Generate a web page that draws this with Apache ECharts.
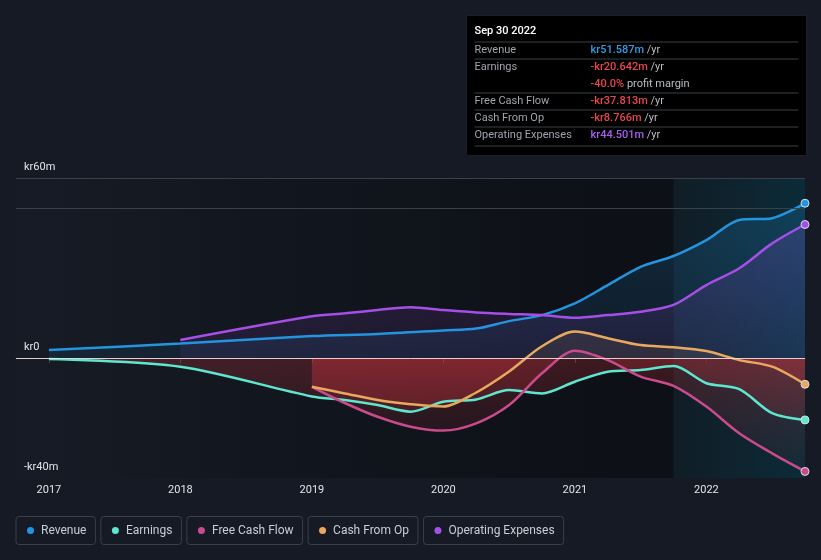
<!DOCTYPE html>
<html>
<head>
<meta charset="utf-8">
<script src="https://cdn.jsdelivr.net/npm/echarts@6/dist/echarts.min.js"></script>
<style>
  html, body { margin: 0; padding: 0; background: #151a24; }
  #chart { width: 821px; height: 560px; }
</style>
</head>
<body>
<div id="chart"></div>
<script>
// ---- data (kr millions, trailing twelve months) ----
const periods = [2017, 2017.25, 2017.5, 2017.75, 2018, 2018.25, 2018.5, 2018.75,
                 2019, 2019.25, 2019.5, 2019.75, 2020, 2020.25, 2020.5, 2020.75,
                 2021, 2021.25, 2021.5, 2021.75, 2022, 2022.25, 2022.5, 2022.75];
const revenue  = [2.7, null, null, null, 4.8, null, null, null,
                  7.3, null, 8.0, null, 9.2, 9.8, 12.3, 14.3,
                  18.2, 24.3, 30.4, 34.0, 39.3, 46.0, 46.6, 51.587];
const earnings = [-0.3, null, null, null, -2.9, null, null, null,
                  -12.8, -14.0, -15.7, -17.9, -14.6, -13.8, -10.7, -11.8,
                  -7.9, -4.6, -4.0, -2.7, -8.4, -10.4, -18.4, -20.642];
const freeCashFlow = [null, null, null, null, null, null, null, null,
                  -9.6, -15.0, -19.6, -22.9, -24.2, -21.8, -15.7, -5.1,
                  2.4, -0.7, -6.2, -9.3, -16.2, -25.1, -31.8, -37.813];
const cashFromOp = [null, null, null, null, null, null, null, null,
                  -9.6, -11.8, -14.0, -15.4, -16.2, -11.5, -4.5, 3.9,
                  8.8, 6.6, 4.3, 3.6, 2.3, -0.7, -2.9, -8.766];
const opex     = [null, null, null, null, 6.0, null, null, null,
                  13.9, 14.9, 16.0, 16.9, 16.0, 15.2, 14.7, 14.3,
                  13.4, 14.3, 15.4, 17.7, 24.3, 29.9, 38.2, 44.501];
const yearTicks = [2017, 2018, 2019, 2020, 2021, 2022];
const yTicks = [-40, 0, 60];
const seriesNames = ['Revenue', 'Earnings', 'Free Cash Flow', 'Cash From Op', 'Operating Expenses'];
const seriesColors = ['#2394df', '#5ee6cf', '#c94b8c', '#e8a95e', '#a54fe6'];
const seriesValues = [revenue, earnings, freeCashFlow, cashFromOp, opex];
const pastYearStart = 2021.75;
const pastYearEnd = 2022.75;

const chart = echarts.init(document.getElementById('chart'), null, { renderer: 'canvas' });
const FONT = 'Roboto, "Noto Sans", sans-serif';

function rgba(hex, a) {
  const n = parseInt(hex.slice(1), 16);
  return `rgba(${(n >> 16) & 255},${(n >> 8) & 255},${n & 255},${a})`;
}

function buildSeries(areaFn) {
  return seriesValues.map((vals, i) => {
    const data = [];
    periods.forEach((p, k) => {
      if (vals[k] === null) return;
      if (k === periods.length - 1) {
        data.push({ value: [p, vals[k]], symbol: 'circle', symbolSize: 8,
                 itemStyle: { color: seriesColors[i], borderColor: '#d8dde6', borderWidth: 1 } });
      } else {
        data.push([p, vals[k]]);
      }
    });
    return {
      name: seriesNames[i],
      type: 'line',
      data: data,
      smooth: 0.3,
      symbol: 'none',
      showSymbol: true,
      z: 3,
      lineStyle: { color: seriesColors[i], width: 2.5 },
      itemStyle: { color: seriesColors[i] },
      areaStyle: areaFn ? { color: areaFn(i), origin: 0 } : { opacity: 0 },
      emphasis: { disabled: true }
    };
  });
}

const richLegend = { t: { color: '#c9cdd4', fontSize: 12, fontFamily: FONT, padding: [0, 0, 0, 7], verticalAlign: 'middle' } };
seriesColors.forEach((c, i) => {
  richLegend['d' + i] = { width: 7, height: 7, borderRadius: 3.5, backgroundColor: c, verticalAlign: 'middle' };
});

const tipLeft = 466, tipTop = 15;
function tipText(x, y, rich, text) {
  return {
    type: 'text', x: x, y: y,
    style: { text: text, fill: '#a0a4ab', font: '11px ' + FONT, verticalAlign: 'middle', rich: rich }
  };
}
const tipRich = {
  b: { fill: '#2f9fe8', color: '#2f9fe8', fontSize: 11, fontWeight: 500, fontFamily: FONT },
  r: { fill: '#e6484e', color: '#e6484e', fontSize: 11, fontWeight: 500, fontFamily: FONT },
  p: { fill: '#a85ef0', color: '#a85ef0', fontSize: 11, fontWeight: 500, fontFamily: FONT },
  g: { fill: '#b9bdc4', color: '#b9bdc4', fontSize: 11, fontFamily: FONT }
};
const sepYs = [26, 43, 77, 94, 111, 130];
const tipChildren = [
  { type: 'rect', shape: { x: 0, y: 0, width: 340, height: 140 }, style: { fill: '#000000', stroke: '#1b1f27', lineWidth: 1 } },
  { type: 'text', x: 8, y: 16, style: { text: 'Sep 30 2022', fill: '#ffffff', font: '500 11px ' + FONT, verticalAlign: 'middle' } }
];
sepYs.forEach(y => tipChildren.push({ type: 'line', shape: { x1: 8, y1: y + 0.5, x2: 332, y2: y + 0.5 }, style: { stroke: '#3b3e44', lineWidth: 1 } }));
[['Revenue', 34.5], ['Earnings', 51.5], ['Free Cash Flow', 85.5], ['Cash From Op', 102.5], ['Operating Expenses', 120]].forEach(([t, y]) => {
  tipChildren.push(tipText(8, y, null, t));
});
tipChildren.push(tipText(124, 34.5, tipRich, '{b|kr51.587m} {g|/yr}'));
tipChildren.push(tipText(124, 51.5, tipRich, '{r|-kr20.642m} {g|/yr}'));
tipChildren.push(tipText(124, 68.5, tipRich, '{r|-40.0%} {g|profit margin}'));
tipChildren.push(tipText(124, 85.5, tipRich, '{r|-kr37.813m} {g|/yr}'));
tipChildren.push(tipText(124, 102.5, tipRich, '{r|-kr8.766m} {g|/yr}'));
tipChildren.push(tipText(124, 120, tipRich, '{p|kr44.501m} {g|/yr}'));

const option = {
  backgroundColor: '#151a24',
  animation: false,
  grid: {
    left: 16, right: 16, top: 178, bottom: 82,
    show: true, borderWidth: 0,
    backgroundColor: new echarts.graphic.LinearGradient(0, 0, 1, 0, [
      { offset: 0, color: '#161b25' },
      { offset: 0.75, color: '#0d1016' },
      { offset: 1, color: '#0d1016' }
    ])
  },
  legend: {
    data: seriesNames,
    left: 11, top: 516, padding: 0,
    itemGap: 0, itemWidth: 0, itemHeight: 0,
    icon: 'rect',
    selectedMode: false,
    formatter: name => `{d${seriesNames.indexOf(name)}| }{t|${name}}`,
    textStyle: {
      color: '#c9cdd4', fontSize: 12, fontFamily: FONT,
      borderColor: '#3a3f49', borderWidth: 1, borderRadius: 3,
      padding: [8, 9, 8, 11],
      rich: richLegend
    }
  },
  xAxis: {
    type: 'value',
    min: 2016.75, max: 2022.75,
    axisLine: { show: true, lineStyle: { color: '#3d424b', width: 1 } },
    axisTick: { show: true, customValues: yearTicks, length: 5, lineStyle: { color: '#3d424b' } },
    axisLabel: { customValues: yearTicks, color: '#e3e5e8', fontSize: 11, fontFamily: FONT, margin: 7, formatter: v => String(v) },
    splitLine: { show: false }
  },
  yAxis: {
    type: 'value',
    min: -40, max: 60,
    axisLine: { show: false },
    axisTick: { show: false },
    splitLine: { show: false },
    axisLabel: {
      customValues: yTicks, inside: true, margin: 8,
      color: '#e3e5e8', fontSize: 11, fontFamily: FONT,
      verticalAlign: 'bottom', padding: [0, 0, 5, 0],
      formatter: v => v === 0 ? 'kr0' : (v < 0 ? '-kr' + Math.abs(v) + 'm' : 'kr' + v + 'm')
    }
  },
  graphic: [{ type: 'group', left: tipLeft, top: tipTop, children: tipChildren, z: 100 }],
  series: []
};

function helperSeries() {
  return [{
    name: 'pastYear', type: 'line', data: [], z: 1, silent: true,
    markArea: {
      silent: true,
      itemStyle: {
        color: new echarts.graphic.LinearGradient(0, 0, 1, 0, [
          { offset: 0, color: 'rgba(20,45,58,0.45)' },
          { offset: 1, color: 'rgba(10,48,62,0.85)' }
        ])
      },
      data: [[{ xAxis: pastYearStart }, { xAxis: pastYearEnd }]]
    },
    markLine: {
      silent: true, symbol: 'none', label: { show: false },
      lineStyle: { color: '#3a4048', width: 1, type: 'solid' },
      data: [{ yAxis: 60 }, { yAxis: 50 }]
    }
  }, {
    name: 'zeroLine', type: 'line', data: [], z: 5, silent: true,
    markLine: {
      silent: true, symbol: 'none', label: { show: false },
      lineStyle: { color: '#f1dede', width: 1, type: 'solid', opacity: 0.9 },
      data: [{ yAxis: 0 }]
    }
  }];
}

option.series = buildSeries(null).concat(helperSeries());
chart.setOption(option);

// global gradients: series colour above zero, red below zero
const zeroPx = chart.convertToPixel({ yAxisIndex: 0 }, 0);
const topPx = chart.convertToPixel({ yAxisIndex: 0 }, 60);
const botPx = chart.convertToPixel({ yAxisIndex: 0 }, -40);
const z = (zeroPx - topPx) / (botPx - topPx);
function areaGradient(i) {
  const c = seriesColors[i];
  const topA = (i === 0 || i === 4) ? 0.32 : 0.22;
  const zeroA = (i === 0 || i === 4) ? 0.12 : 0.14;
  return new echarts.graphic.LinearGradient(0, topPx, 0, botPx, [
    { offset: 0, color: rgba(c, topA) },
    { offset: z, color: rgba(c, zeroA) },
    { offset: z, color: 'rgba(208,52,62,0.36)' },
    { offset: 1, color: 'rgba(208,52,62,0.04)' }
  ], true);
}
option.series = buildSeries(areaGradient).concat(helperSeries());
chart.setOption(option, true);
</script>
</body>
</html>
